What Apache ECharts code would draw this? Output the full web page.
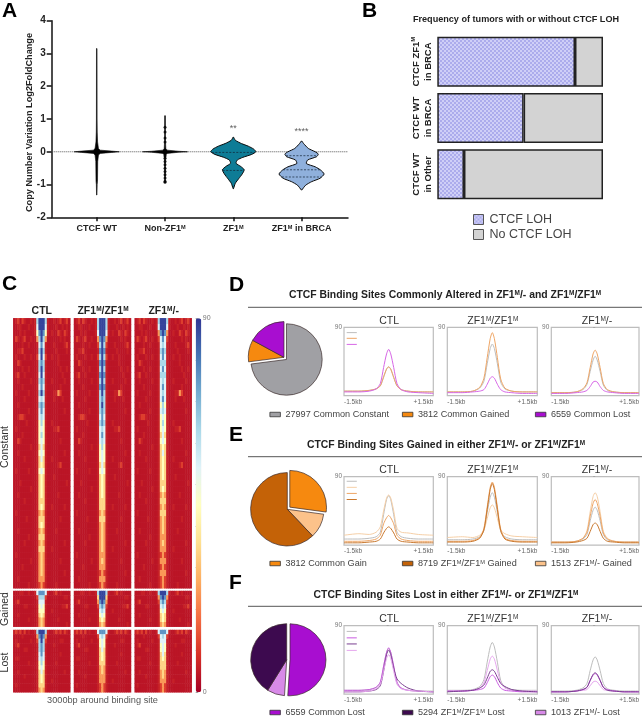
<!DOCTYPE html>
<html><head><meta charset="utf-8">
<style>html,body{margin:0;padding:0;background:#fff}#c{width:642px;height:718px;filter:blur(.45px)}</style>
<script src="https://cdn.jsdelivr.net/npm/echarts@6/dist/echarts.min.js"></script>
</head><body><div id="c"></div>
<script>
// ---------- Panel A ----------
const aCategories = ['CTCF WT','Non-ZF1^M','ZF1^M','ZF1^M in BRCA'];
const aCentres = [1,2,3,4];
const vWT = [[3.15,.004],[1,.005],[.6,.007],[.3,.012],[.1,.025],[.05,.05],[.02,.22],[0,.33],[-.02,.22],[-.05,.05],[-.1,.025],[-.3,.014],[-.9,.011],[-1,.006],[-1.32,.003]];
const vNon = [[1.1,.006],[.3,.007],[.1,.012],[.05,.03],[.015,.2],[0,.33],[-.015,.2],[-.05,.03],[-.1,.012],[-.3,.007],[-.95,.006]];
const vZF = [[.45,.002],[.35,.03],[.25,.12],[.17,.22],[.08,.3],[0,.33],[-.08,.27],[-.17,.14],[-.25,.06],[-.35,.04],[-.45,.11],[-.55,.16],[-.68,.13],[-.82,.08],[-.96,.03],[-1.13,.002]];
const vBR = [[.33,.002],[.25,.03],[.1,.1],[0,.2],[-.07,.245],[-.15,.22],[-.25,.09],[-.36,.07],[-.46,.2],[-.56,.28],[-.68,.33],[-.81,.27],[-.91,.15],[-1.02,.06],[-1.17,.002]];
const zfQuart = [-.02,-.57];
const brQuart = [-.12,-.55,-.77];
const nonDots = [.75,.6,.42,.3,-.12,-.2,-.3,-.4,-.5,-.6,-.7,-.8,-.9,-.93];
const zeroLine = [.34,4.68];
const aStars = [[3,.72,'**'],[4,.62,'****']];
// ---------- Panel B ----------
const bCategories = ['CTCF ZF1^M\nin BRCA','CTCF WT\nin BRCA','CTCF WT\nin Other'];
const bLOH = [83.1,52.1,16.1];
const bNoLOH = [16.9,47.9,83.9];
// ---------- Panel C ----------
const heatLevels = [4,6,11,24,34,45,54,63,76,88];
const heatColors = ['#a50026','#d73027','#f46d43','#fdae61','#fee090','#ffffbf','#e0f3f8','#abd9e9','#74add1','#4575b4','#313695'];
const heatHeaders = ['CTL','ZF1^M/ZF1^M','ZF1^M/-'];
const flankConstant = [
'0120210010|0010120120','0011000100|0001001010','0001010000|0100210210','0210120010|0000010100','0000100100|0010000120',
'0011200000|0001000010','0100010010|0100100000','0021000000|0000100000','0000100100|0000010010','0120010000|0000001000',
'0010000010|0100000100','0000100000|0000010000','0100000100|0011320000','0000010000|0010001000','0010000000|0000000000',
'0000000100|0000000100','0012210000|0000000000','0000001000|0100000000','0100000000|0011200000','0000100000|0000000000',
'0021000000|0000010000','0000000010|0000000000','0010000000|0000000100','0000010000|0100000000','0000000000|0000120000',
'0100000100|0000000000','0000000000|0010000000','0001000000|0000000010','0000000010|0000000000','0010000000|0000100000',
'0000010000|0000000000','0000000000|0100000100','0100000000|0000000000','0000001000|0000010000','0000000000|0000000000',
'0010000000|0001000000','0000000100|0000000000','0000010000|0000000100','0000000000|0100000000','0100000000|0000000000',
'0000000010|0000010000','0000100000|0000000000','0000000000|0000000100','0010000000|0000000000','0000000100|0001000000'];
const flankGained = ['0001100100|0012010000','0000000000|0000000110','0120000000|0000000000','0000011000|0000001120',
'0000000000|0100000000','0010000000|0000000000','0000000100|0000100000','0000000000|0000000010'];
const flankLost = ['1212020100|0012120210','0000100000|0000000000','0100000010|0000011000','0120000000|0010000000',
'0000011000|0000000000','0000000000|0000010000','0110000000|0000000000','0000000100|0001000000',
'0000000000|0000000000','0010000000|0000000100','0000010000|0000000000','0000000000|0100000000','0100000000|0000000000','0000000000|0000000000'];
const coreConstantCTL = ['1799971','1699961','1589851','0379730','0168610','0179710','0269620','0178710','0179710','0169610','0178710','0168610','0179710','0167610','0178710','0168610','0167610','0157510','0156510','0157510','0156510','0146410','0156510','0146410','0145410','0156510','0145410','0145410','0145410','0145410','0144410','0145410','0134310','0144410','0145410','0134310','0144410','0134310','0144410','0134310','0134310','0134310','0134310','0133310','0123210'];
const coreConstantHom = ['1799971','1799971','1699961','0389830','0279720','0189810','0279720','0189810','0179710','0189810','0179710','0189810','0179710','0178710','0179710','0178710','0168610','0178710','0167610','0168610','0167610','0157510','0156510','0156510','0146410','0156510','0145410','0145410','0145410','0145410','0144410','0144410','0134310','0144410','0134310','0134310','0134310','0134310','0134310','0133310','0134310','0133310','0123210','0133310','0123210'];
const coreConstantHet = ['1799971','1699961','0389830','0268620','0167610','0178710','0168610','0177710','0168610','0177710','0167610','0168610','0167610','0168610','0157510','0167610','0156510','0157510','0156510','0146410','0156510','0145410','0146410','0145410','0145410','0145410','0145410','0144410','0145410','0134310','0144410','0134310','0144410','0134310','0134310','0134310','0133310','0134310','0133310','0123210','0133310','0123210','0133310','0123210','0123210'];
const coreGainedCTL = ['1688861','0277720','0166610','0156510','0155510','0145410','0134310','0134310'];
const coreGainedHom = ['1799971','0499940','0389830','0278720','0167610','0156510','0145410','0134310'];
const coreGainedHet = ['1799971','0389830','0278720','0167610','0156510','0145410','0145410','0134310'];
const coreLostCTL = ['1799971','0389830','0279720','0178710','0178710','0168610','0167610','0157510','0156510','0146410','0145410','0145410','0144410','0134310'];
const coreLostHom = ['1688861','0267620','0156510','0156510','0146410','0145410','0145410','0144410','0134310','0134310','0133310','0133310','0123210','0123210'];
const coreLostHet = ['1688861','0267620','0166610','0156510','0156510','0146410','0145410','0144410','0144410','0134310','0134310','0133310','0123210','0123210'];
// ---------- Panels D, E, F : pies ----------
const pieD = [['27997 Common Constant',27997,'#a0a0a4',1],['3812 Common Gained',3812,'#f6890f',0],['6559 Common Lost',6559,'#a80ed0',0]];
const pieE = [['3812 Common Gain',3812,'#f6890f',1],['1513 ZF1^M/- Gained',1513,'#fcc28a',0],['8719 ZF1^M/ZF1^M Gained',8719,'#c46207',0]];
const pieF = [['6559 Common Lost',6559,'#a80ed0',1],['1013 ZF1^M/- Lost',1013,'#d88ae8',0],['5294 ZF1^M/ZF1^M Lost',5294,'#3d0a4f',0]];
// ---------- Panels D, E, F : profile curves ----------
const kb = [-1.5,-1,-.65,-.42,-.28,-.17,-.07,0,.07,.17,.28,.42,.65,1,1.5];
const D_ctl_grey=[6,6,7,9,13,24,35,38,35,24,13,8,6,5,5], D_ctl_orange=[6,6,7,9,13,25,35,38,35,24,13,8,6,5,5], D_ctl_purple=[5,5,6,9,16,37,55,61,55,37,16,8,5,4,3];
const D_hom_grey=[5,5,6,10,19,42,62,68,62,42,18,9,6,5,5], D_hom_orange=[5,5,6,11,23,50,75,83,75,50,22,10,6,5,5], D_hom_purple=[4,4,5,6,8,15,23,25,23,15,8,5,4,3,3];
const D_het_grey=[4,4,5,8,15,32,47,52,47,32,14,7,5,4,4], D_het_orange=[4,4,5,9,17,37,55,60,55,37,16,8,5,4,4], D_het_purple=[3,3,4,5,7,12,18,19,18,12,7,5,4,3,3];
const E_ctl_grey=[8,8,9,11,17,40,60,65,60,40,17,11,9,8,8], E_ctl_orange=[5,5,6,8,13,28,36,39,36,28,13,8,6,5,5], E_ctl_brown=[3,3,4,5,8,16,22,24,22,16,8,5,4,3,3], E_ctl_pale=[13,15,14,17,24,45,62,66,62,45,22,17,16,14,13];
const E_hom_grey=[7,7,8,11,19,43,63,69,63,43,18,11,8,7,7], E_hom_orange=[5,5,6,10,22,50,76,83,76,50,21,9,6,5,5], E_hom_brown=[4,4,5,9,20,47,73,81,73,47,19,8,5,4,4], E_hom_pale=[10,11,10,13,20,35,49,53,49,35,20,15,12,11,10];
const E_het_grey=[4,4,5,8,14,32,46,50,46,32,14,7,5,4,4], E_het_orange=[4,4,5,9,17,38,55,60,55,38,16,8,5,4,4], E_het_brown=[3,3,4,6,9,18,27,29,27,18,9,5,4,3,3], E_het_pale=[4,4,5,9,19,44,64,69,64,44,18,9,5,4,4];
const F_ctl_grey=[5,5,6,9,15,36,55,60,55,36,14,8,5,4,4], F_ctl_purple=[5,5,6,9,16,37,55,61,55,37,16,8,5,4,3], F_ctl_dark=[3,3,4,6,11,30,52,58,52,34,20,14,8,4,3], F_ctl_pale=[3,3,4,7,13,30,47,52,47,30,13,7,5,4,3];
const F_hom_grey=[5,5,6,10,19,42,62,68,62,42,18,9,6,5,5], F_hom_purple=[4,4,5,6,8,15,23,25,23,15,8,5,4,3,3], F_hom_dark=[3,4,5,8,12,21,30,32,30,22,14,10,6,4,3], F_hom_pale=[4,4,5,8,15,31,46,50,46,31,15,8,5,4,4];
const F_het_grey=[4,4,5,8,14,31,45,49,45,31,14,7,5,4,4], F_het_purple=[3,3,4,6,9,18,25,27,25,18,9,6,4,3,3], F_het_dark=[3,3,4,6,9,18,26,28,26,18,9,5,4,3,3], F_het_pale=[3,3,4,5,6,11,16,17,16,11,6,5,4,3,3];
const keyX = [-1.41,-1.07];
const keyYD = [83,75.5,67.5], keyYE = [84,76,68,60], keyYF = [82.5,74,66,57.5];
const panelNames = ['CTL','ZF1^M/ZF1^M','ZF1^M/-'];

const FONT = 'Liberation Sans';
const sup = (t,n,s)=>t.split('\n').map(l=>l.split('^M').map((p,i,a)=>(p?`{${n}|${p}}`:'')+(i<a.length-1?`{${s}|M}`:'')).join('')).join('\n');
const rich = (size,weight,color,key='fill')=>({
  n:{fontSize:size,fontWeight:weight,fontFamily:FONT,[key]:color},
  s:{fontSize:size*.62,fontWeight:weight,fontFamily:FONT,[key]:color,verticalAlign:'top'}
});

const grid=[],xAxis=[],yAxis=[],series=[],legend=[],graphic=[];
function addGrid(r,x,y){const i=grid.length;grid.push(Object.assign({containLabel:false},r));
  xAxis.push(Object.assign({gridIndex:i},x));yAxis.push(Object.assign({gridIndex:i},y));return i;}
const txt=(text,x,y,size,weight,color,align='center',rot=0)=>graphic.push({type:'text',x,y,rotation:rot,silent:true,
  style:{text:sup(text,'n','s'),rich:rich(size,weight,color),fill:color,fontSize:size,fontWeight:weight,fontFamily:FONT,align,verticalAlign:'middle'}});

// Panel letters
[['A',2,11],['B',362,11],['C',2,284],['D',229,285],['E',229,435],['F',229,583]].forEach(([l,x,y])=>
  graphic.push({type:'text',x,y,silent:true,style:{text:l,fontSize:21,fontWeight:'bold',fontFamily:FONT,fill:'#000',align:'left',verticalAlign:'middle'}}));

// ===== A =====
const gA = addGrid({left:51.7,top:20.7,width:296.3,height:196.6},
 {type:'value',min:zeroLine[0],max:zeroLine[1],splitLine:{show:false},
  axisLine:{onZero:false,lineStyle:{color:'#111',width:1.5}},
  axisTick:{customValues:aCentres,length:4,lineStyle:{color:'#111',width:1.5}},
  axisLabel:{customValues:aCentres,margin:7,formatter:v=>sup(aCategories[v-1],'n','s'),rich:rich(9,'bold','#222','color')}},
 {type:'value',min:-2,max:4,interval:1,splitLine:{show:false},
  axisLine:{onZero:false,show:true,lineStyle:{color:'#111',width:1.5}},
  axisTick:{show:true,length:5,lineStyle:{color:'#111',width:1.5}},
  axisLabel:{fontFamily:FONT,fontSize:10,fontWeight:'bold',color:'#222',margin:6}});
series.push({type:'line',xAxisIndex:gA,yAxisIndex:gA,data:[[zeroLine[0],0],[zeroLine[1],0]],symbol:'none',silent:true,lineStyle:{type:'dotted',color:'#555',width:1},z:1});
function violin(c,prof,fill,quart,smooth,lw){
  series.push({type:'custom',xAxisIndex:gA,yAxisIndex:gA,z:3,silent:true,data:prof.map(p=>[c,p[0],p[1]]),
   renderItem(params,api){
    if(params.dataIndex!==0) return null;
    const r=prof.map(p=>api.coord([c+p[1],p[0]])), l=prof.map(p=>api.coord([c-p[1],p[0]])).reverse();
    const kids=[{type:'polygon',shape:{points:r.concat(l),smooth},style:{fill,stroke:'#0a0a0a',lineWidth:lw}}];
    quart.forEach(q=>{
      let w=0;for(let i=1;i<prof.length;i++){if(prof[i-1][0]>=q&&prof[i][0]<=q){const t=(prof[i-1][0]-q)/(prof[i-1][0]-prof[i][0]);w=prof[i-1][1]+t*(prof[i][1]-prof[i-1][1]);}}
      const a=api.coord([c-w,q]),b=api.coord([c+w,q]);
      kids.push({type:'line',shape:{x1:a[0],y1:a[1],x2:b[0],y2:b[1]},style:{stroke:'#123',lineWidth:.7,lineDash:[2,1.5]}});
    });
    return {type:'group',children:kids};
   }});
}
violin(1,vWT,'#000',[],0,.6);
violin(2,vNon,'#000',[],0,.6);
violin(3,vZF,'#0e7c96',zfQuart,.2,1);
violin(4,vBR,'#8fb0dc',brQuart,.2,1);
series.push({type:'scatter',xAxisIndex:gA,yAxisIndex:gA,silent:true,z:4,symbolSize:3,itemStyle:{color:'#000'},data:nonDots.map(v=>[2,v])});
series.push({type:'scatter',xAxisIndex:gA,yAxisIndex:gA,silent:true,z:4,symbolSize:0,data:aStars.map(s=>[s[0],s[1],s[2]]),
  label:{show:true,position:'inside',formatter:p=>p.value[2],fontFamily:FONT,fontSize:9,color:'#333'}});
txt('Copy Number Variation Log2FoldChange',29,122.5,9.2,'bold','#222','center',Math.PI/2);

// ===== B =====
const lohPattern=document.createElement('canvas');lohPattern.width=lohPattern.height=4;
{const g=lohPattern.getContext('2d');g.fillStyle='#cfcff7';g.fillRect(0,0,4,4);g.fillStyle='#acacec';g.fillRect(0,0,2,2);g.fillRect(2,2,2,2);}
const lohFill={image:lohPattern,repeat:'repeat'};
const gB=addGrid({left:437.3,top:33.5,width:165.7,height:169},
 {type:'value',min:0,max:100,show:false},
 {type:'category',inverse:true,data:bCategories,axisLine:{show:false},axisTick:{show:false},
  axisLabel:{interval:0,rotate:90,margin:3,align:'center',verticalAlign:'bottom',lineHeight:12,formatter:v=>sup(v,'n','s'),rich:rich(9.5,'bold','#222','color')}});
[['CTCF LOH',bLOH,lohFill],['No CTCF LOH',bNoLOH,'#d3d3d3']].forEach(([name,data,color])=>
  series.push({name,type:'bar',stack:'b',xAxisIndex:gB,yAxisIndex:gB,barWidth:50,data,silent:true,itemStyle:{color,borderColor:'#222',borderWidth:1.5}}));
legend.push({data:['CTCF LOH','No CTCF LOH'],orient:'vertical',left:473,top:213,padding:0,icon:'rect',itemWidth:10,itemHeight:10,itemGap:2,selectedMode:false,
  itemStyle:{borderColor:'#555',borderWidth:1},
  textStyle:{fontFamily:FONT,fontSize:12.5,color:'#444',padding:[0,0,0,1]}});
txt('Frequency of tumors with or without CTCF LOH',516,19,9.1,'bold','#222');

// ===== C =====
const colLefts=[13.3,74,134.7], colW=57;
const rowsC=[
 {top:318.3,h:270,flank:flankConstant,core:[coreConstantCTL,coreConstantHom,coreConstantHet]},
 {top:591,h:35.7,flank:flankGained,core:[coreGainedCTL,coreGainedHom,coreGainedHet]},
 {top:630,h:62.3,flank:flankLost,core:[coreLostCTL,coreLostHom,coreLostHet]}];
const heatIdx=[];
rowsC.forEach(block=>colLefts.forEach((left,pi)=>{
  const rows=block.flank.map((f,i)=>{const [a,b]=f.split('|');return a+block.core[pi][i]+b;});
  const data=[];rows.forEach((row,r)=>row.split('').forEach((ch,c)=>data.push([c,r,heatLevels[+ch]])));
  const cats=n=>Array.from({length:n},(_,i)=>i);
  const g=addGrid({left,top:block.top,width:colW,height:block.h},
    {type:'category',data:cats(rows[0].length),show:false},
    {type:'category',data:cats(rows.length),inverse:true,show:false});
  heatIdx.push(series.length);
  series.push({type:'heatmap',xAxisIndex:g,yAxisIndex:g,data,silent:true,progressive:0,animation:false});
}));
heatHeaders.forEach((h,i)=>txt(h,colLefts[i]+colW/2+(i==0?0:0.5),311,10.5,'bold','#222'));
txt('Constant',5,447,10.5,'normal','#333','center',Math.PI/2);
txt('Gained',5,609,10.5,'normal','#333','center',Math.PI/2);
txt('Lost',5,662.5,10.5,'normal','#333','center',Math.PI/2);
txt('3000bp around binding site',102.5,700,9.2,'normal','#555');
addGrid({left:195.7,top:318.3,width:5.6,height:374},
 {type:'value',min:0,max:1,show:false},
 {type:'value',min:0,max:90,interval:10,position:'right',splitLine:{show:false},axisLine:{show:false},
  axisTick:{show:true,length:2.5,lineStyle:{color:'#777',width:.7}},
  axisLabel:{customValues:[0,90],margin:1.5,fontFamily:FONT,fontSize:7,color:'#777'}});
const visualMap=[{type:'continuous',min:0,max:90,seriesIndex:heatIdx,inRange:{color:heatColors},left:195.7,top:318.3,itemWidth:5.6,itemHeight:374,
  padding:0,text:null,calculable:false,hoverLink:false,showLabel:false,orient:'vertical'}];

// ===== D E F =====
const lineLefts=[[344,89.3],[447.3,90],[551.3,90.4]];
const legX=[269.5,402,535];
function section(title,titleY,ruleY,titleX,pieData,pc,pr,panelTop,panelH,curves,keyY,legY){
  txt(title,titleX,titleY,10.4,'bold','#222');
  graphic.push({type:'line',silent:true,shape:{x1:248,y1:ruleY,x2:642,y2:ruleY},style:{stroke:'#555',lineWidth:1}});
  series.push({type:'pie',center:pc,radius:pr,startAngle:90,silent:true,selectedMode:'multiple',selectedOffset:3.3,
    label:{show:false},labelLine:{show:false},emphasis:{disabled:true},
    itemStyle:{borderColor:'#3a2a2a',borderWidth:.7},
    data:pieData.map(d=>({name:d[0],value:d[1],selected:!!d[3],itemStyle:{color:d[2]}}))});
  curves.legendOrder.forEach((nm,i)=>legend.push({data:[nm],left:legX[i],top:legY-5,padding:0,icon:'rect',itemWidth:10.5,itemHeight:4.5,selectedMode:false,
    itemStyle:{borderColor:'#333',borderWidth:.8},
    formatter:v=>sup(v,'n','s'),textStyle:{fontFamily:FONT,fontSize:9.1,color:'#444',rich:rich(9.1,'normal','#444','color')}}));
  lineLefts.forEach(([left,width],pi)=>{
    const g=addGrid({left,top:panelTop,width,height:panelH,show:true,borderColor:'#bdbdbd',borderWidth:1.2,backgroundColor:'transparent'},
      {type:'value',min:-1.5,max:1.5,splitLine:{show:false},axisLine:{show:false},axisTick:{show:false},
       axisLabel:{customValues:[-1.5,1.5],formatter:v=>v<0?'-1.5kb':'+1.5kb',alignMinLabel:'left',alignMaxLabel:'right',fontFamily:FONT,fontSize:6.5,color:'#666',margin:3}},
      {type:'value',min:0,max:90,splitLine:{show:false},axisLine:{show:false},
       axisTick:{show:true,customValues:[90],length:2,lineStyle:{color:'#999',width:.7}},
       axisLabel:{customValues:[90],margin:2,fontFamily:FONT,fontSize:6.5,color:'#777'}});
    txt(panelNames[pi],left+width/2+0.5,panelTop-6.5,10.5,'normal','#333');
    curves.sets[pi].forEach(([vals,color])=>series.push({type:'line',xAxisIndex:g,yAxisIndex:g,silent:true,symbol:'none',smooth:.25,
      data:vals.map((v,i)=>[kb[i],v]),lineStyle:{color,width:1}}));
    if(pi===0) curves.sets[0].forEach(([vals,color],i)=>series.push({type:'line',xAxisIndex:g,yAxisIndex:g,silent:true,symbol:'none',
      data:keyX.map(x=>[x,keyY[i]]),lineStyle:{color,width:1}}));
  });
}
const cG='#bdbdbd',cO='#eea565',cP='#d766e6',cB='#c9782e',cL='#f6cfa6',cD='#7a3f90',cK='#e6a6ee',cM='#c95ae0';
section('CTCF Binding Sites Commonly Altered in ZF1^M/- and ZF1^M/ZF1^M',295,307.3,445,pieD,[284,357.3],35.7,327.3,68.4,
 {legendOrder:[pieD[0][0],pieD[1][0],pieD[2][0]],sets:[
  [[D_ctl_grey,cG],[D_ctl_orange,cO],[D_ctl_purple,cP]],
  [[D_hom_grey,cG],[D_hom_orange,cO],[D_hom_purple,cP]],
  [[D_het_grey,cG],[D_het_orange,cO],[D_het_purple,cP]]]},keyYD,415);
section('CTCF Binding Sites Gained in either ZF1^M/- or ZF1^M/ZF1^M',445,456.7,446,pieE,[287.3,509.3],36.7,476.7,68.4,
 {legendOrder:[pieE[0][0],pieE[2][0],pieE[1][0]],sets:[
  [[E_ctl_grey,cG],[E_ctl_pale,cL],[E_ctl_orange,cO],[E_ctl_brown,cB]],
  [[E_hom_grey,cG],[E_hom_pale,cL],[E_hom_orange,cO],[E_hom_brown,cB]],
  [[E_het_grey,cG],[E_het_pale,cL],[E_het_orange,cO],[E_het_brown,cB]]]},keyYE,564);
section('CTCF Binding Sites Lost in either ZF1^M/- or ZF1^M/ZF1^M',595,606.3,446,pieF,[286.7,659.7],36,625.7,68.4,
 {legendOrder:[pieF[0][0],pieF[2][0],pieF[1][0]],sets:[
  [[F_ctl_grey,cG],[F_ctl_purple,cM],[F_ctl_dark,cD],[F_ctl_pale,cK]],
  [[F_hom_grey,cG],[F_hom_pale,cK],[F_hom_purple,cM],[F_hom_dark,cD]],
  [[F_het_grey,cG],[F_het_pale,cK],[F_het_purple,cM],[F_het_dark,cD]]]},keyYF,713);

const chart=echarts.init(document.getElementById('c'),null,{width:642,height:718});
chart.setOption({animation:false,backgroundColor:'#fff',tooltip:{show:false},grid,xAxis,yAxis,series,legend,visualMap,graphic:{elements:graphic}});
</script></body></html>
